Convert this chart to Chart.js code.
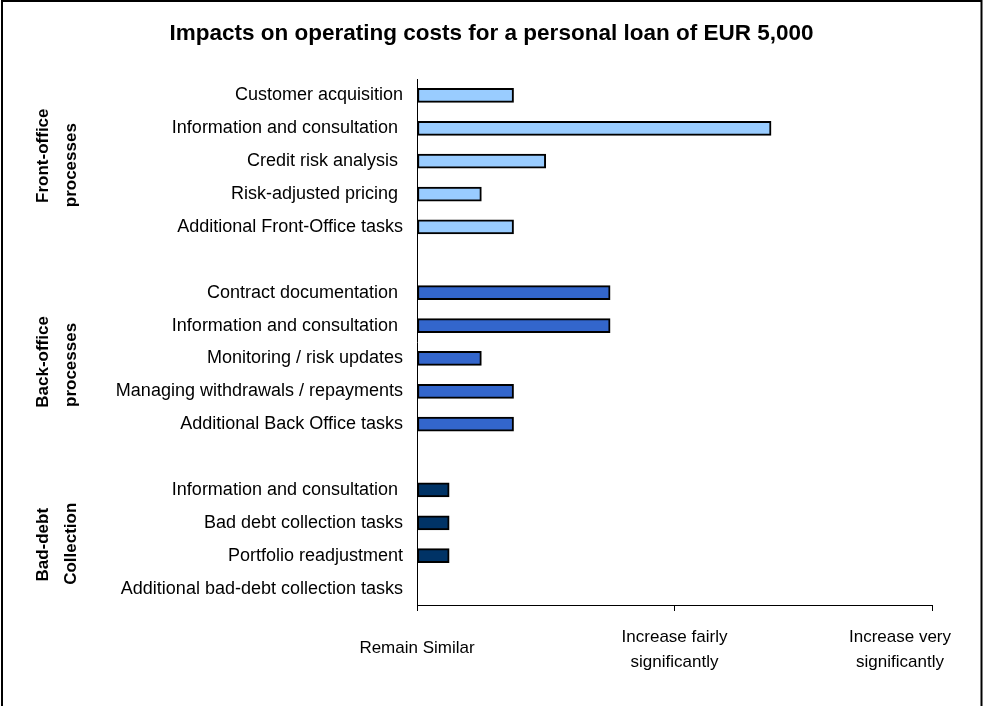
<!DOCTYPE html>
<html>
<head>
<meta charset="utf-8">
<title>Impacts on operating costs</title>
<script src="https://cdn.jsdelivr.net/npm/chart.js@4.4.1/dist/chart.umd.min.js"></script>
<style>
    html, body { margin: 0; padding: 0; background: #fff; }
    canvas { display: block; }
</style>
</head>
<body>
<canvas id="myChart" width="983" height="706"></canvas>
<script>
// row labels, blanks are the gaps between groups
var categories = [
    'Customer acquisition', 'Information and consultation ', 'Credit risk analysis ',
    'Risk-adjusted pricing ', 'Additional Front-Office tasks',
    '',
    'Contract documentation ', 'Information and consultation ', 'Monitoring / risk updates',
    'Managing withdrawals / repayments', 'Additional Back Office tasks',
    '',
    'Information and consultation ', 'Bad debt collection tasks', 'Portfolio readjustment',
    'Additional bad-debt collection tasks'
];

var frontOffice = [0.375, 1.375, 0.5, 0.25, 0.375];
var backOffice = [0.75, 0.75, 0.25, 0.375, 0.375];
var badDebt = [0.125, 0.125, 0.125, 0];

var groupNames = [['Front-office', 'processes'], ['Back-office', 'processes'], ['Bad-debt', 'Collection']];
var xTickLabels = [['Remain Similar'], ['Increase fairly', 'significantly'], ['Increase very', 'significantly']];

(function () {
    "use strict";

    var FONT = "'Liberation Sans', Arial, sans-serif";
    Chart.defaults.font.family = FONT;
    Chart.defaults.font.size = 18;
    Chart.defaults.color = '#000';

    // place each group's values on its own rows, nulls elsewhere
    var groups = [frontOffice, backOffice, badDebt];
    var starts = [];
    var pos = 0;
    groups.forEach(function (g) {
        starts.push(pos);
        pos += g.length + 1;
    });

    function rowsFor(idx) {
        var out = categories.map(function () { return null; });
        groups[idx].forEach(function (v, i) { out[starts[idx] + i] = v; });
        return out;
    }

    var colors = ['#99CCFF', '#3366CC', '#003366'];

    var datasets = groups.map(function (g, i) {
        return {
            label: groupNames[i].join(' '),
            data: rowsFor(i),
            backgroundColor: colors[i],
            borderColor: '#000',
            borderWidth: 2,
            borderSkipped: false,
            barThickness: 14
        };
    });

    // small nudges per line so the group names sit like the original
    var groupShift = [[-5.5, 4], [3.5, 6.5], [5.5, 4.5]];

    var decorations = {
        id: 'decorations',
        afterDraw: function (chart) {
            var ctx = chart.ctx;
            var x = chart.scales.x;
            var y = chart.scales.y;
            ctx.save();

            // outer frame
            ctx.strokeStyle = '#000';
            ctx.lineWidth = 2;
            ctx.strokeRect(2, 1, 979.5, 720);

            // x tick labels under the axis
            ctx.fillStyle = '#000';
            ctx.font = '17px ' + FONT;
            ctx.textAlign = 'center';
            ctx.textBaseline = 'middle';
            xTickLabels.forEach(function (lines, i) {
                var px = x.getPixelForValue(i);
                var w = 0;
                lines.forEach(function (l) { w = Math.max(w, ctx.measureText(l).width); });
                px = Math.min(px, chart.width - 32 - w / 2);
                if (lines.length === 1) {
                    ctx.fillText(lines[0], px, 648);
                } else {
                    ctx.fillText(lines[0], px, 637);
                    ctx.fillText(lines[1], px, 662);
                }
            });

            // rotated group names on the left
            ctx.font = 'bold 17px ' + FONT;
            groupNames.forEach(function (lines, i) {
                var first = starts[i];
                var last = starts[i] + groups[i].length - 1;
                var cy = (y.getPixelForValue(first) + y.getPixelForValue(last)) / 2;
                lines.forEach(function (line, j) {
                    ctx.save();
                    ctx.translate(j === 0 ? 43 : 71, cy + groupShift[i][j]);
                    ctx.rotate(-Math.PI / 2);
                    ctx.fillText(line, 0, 0);
                    ctx.restore();
                });
            });

            ctx.restore();
        }
    };

    var ctx = document.getElementById('myChart').getContext('2d');

    var myChart = new Chart(ctx, {
        type: 'bar',
        data: {
            labels: categories,
            datasets: datasets
        },
        options: {
            indexAxis: 'y',
            responsive: false,
            animation: false,
            layout: {
                padding: 0
            },
            plugins: {
                legend: { display: false },
                tooltip: { enabled: false },
                title: {
                    display: true,
                    text: 'Impacts on operating costs for a personal loan of EUR 5,000',
                    color: '#000',
                    font: { family: FONT, size: 22.5, weight: 'bold' },
                    padding: { top: 20, bottom: 32 }
                }
            },
            scales: {
                x: {
                    stacked: true,
                    min: 0,
                    max: 2,
                    ticks: { display: false, stepSize: 1 },
                    grid: {
                        drawOnChartArea: false,
                        drawTicks: true,
                        tickLength: 6,
                        color: '#000'
                    },
                    border: { display: true, color: '#000', width: 1 },
                    afterFit: function (scale) {
                        scale.height = 101;
                        // leave room on the right like the original plot area
                        scale.paddingRight = 51;
                    }
                },
                y: {
                    stacked: true,
                    grid: { display: false, drawTicks: false },
                    border: { display: true, color: '#000', width: 1 },
                    ticks: {
                        autoSkip: false,
                        padding: 14,
                        color: '#000',
                        font: { size: 18 }
                    },
                    afterFit: function (scale) {
                        scale.width = 417;
                    }
                }
            }
        },
        plugins: [decorations]
    });
})();
</script>
</body>
</html>
